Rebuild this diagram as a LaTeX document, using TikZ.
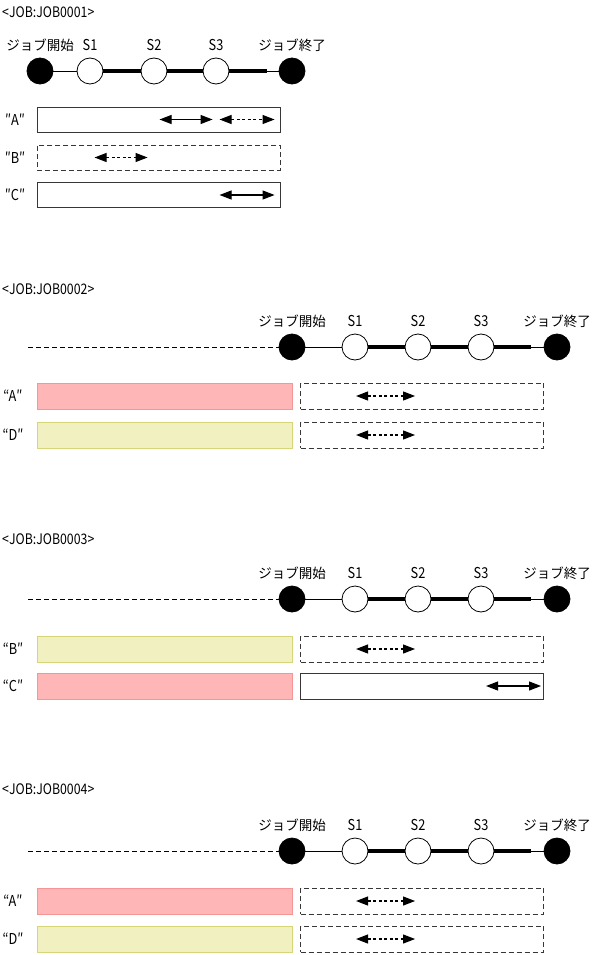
\documentclass[tikz,border=0pt]{standalone}
\usepackage{fontspec}
\setmainfont{Noto Sans CJK JP}
\newfontfamily\narrowfont[FakeStretch=0.85]{Noto Sans CJK JP}
\usetikzlibrary{positioning,calc,arrows.meta}
\definecolor{jobPink}{RGB}{255,182,182}
\definecolor{jobPinkLine}{RGB}{244,150,150}
\definecolor{jobYellow}{RGB}{240,240,192}
\definecolor{jobYellowLine}{RGB}{214,214,120}
\definecolor{jobLine}{RGB}{55,55,55}
\tikzset{
    jobTitle/.style={anchor=west, inner sep=0pt, font=\narrowfont\fontsize{14.5}{16}\selectfont},
    % timeline
    startEnd/.style={circle, draw, fill=black, minimum size=26pt, inner sep=0pt, line width=0.8pt},
    stepNode/.style={circle, draw, fill=white, minimum size=26pt, inner sep=0pt, line width=0.8pt},
    jpLabel/.style={inner sep=1pt, text height=11pt, text depth=2pt, font=\fontsize{13.5}{16}\selectfont},
    stLabel/.style={jpLabel, font=\narrowfont\fontsize{15}{16}\selectfont},
    thinLine/.style={line width=0.8pt},
    thickLine/.style={line width=4pt},
    leadLine/.style={line width=0.9pt, dash pattern=on 5pt off 3pt},
    % bars
    barBase/.style={rectangle, inner sep=0pt, minimum height=25pt, line width=0.9pt},
    solidBox/.style={barBase, draw=jobLine, fill=white, minimum width=243pt},
    dashBox/.style={barBase, draw=jobLine, fill=white, dash pattern=on 5pt off 3pt, minimum width=243pt},
    pinkBar/.style={barBase, draw=jobPinkLine, fill=jobPink, minimum width=255pt, minimum height=26pt},
    yellowBar/.style={barBase, draw=jobYellowLine, fill=jobYellow, minimum width=255pt, minimum height=26pt},
    quoteTag/.style={inner sep=0pt, font=\narrowfont\fontsize{15}{16}\selectfont},
    % spans
    spanSolid/.style={{Triangle[length=12pt,width=9pt]}-{Triangle[length=12pt,width=9pt]}, line width=1.1pt, draw=black},
    spanDash/.style={spanSolid, dash pattern=on 3pt off 2.5pt}
}

\begin{document}
\begin{tikzpicture}[x=1pt,y=-1pt]
    \useasboundingbox (0,0) rectangle (593,955);

    % JOB0001
    \node[jobTitle] (title1) at (2,12) {<JOB:JOB0001>};
    \node[startEnd] (st1) at (40,71) {};
    \node[stepNode] (sa1) at (90,71) {};
    \node[stepNode] (sb1) at (154,71) {};
    \node[stepNode] (sc1) at (216,71) {};
    \node[startEnd] (en1) at (292,71) {};
    \coordinate (tk1) at ([xshift=-12pt]en1.west);
    \draw[thinLine] (st1) -- (sa1);
    \draw[thickLine] (sa1) -- (sb1) (sb1) -- (sc1) (sc1) -- (tk1);
    \draw[thinLine] (tk1) -- (en1);
    \node[jpLabel, above=4pt of st1] {ジョブ開始};
    \node[stLabel, above=4pt of sa1] {S1};
    \node[stLabel, above=4pt of sb1] {S2};
    \node[stLabel, above=4pt of sc1] {S3};
    \node[jpLabel, above=4pt of en1] {ジョブ終了};

    \node[solidBox] (barA1) at (158.5,119.5) {};
    \node[dashBox] (barB1) at (158.5,157.5) {};
    \node[solidBox] (barC1) at (158.5,195) {};
    \node[quoteTag] (tagA1) at (15,119.5) {″A″};
    \node[quoteTag] (tagB1) at (15,157.5) {″B″};
    \node[quoteTag] (tagC1) at (15,195) {″C″};
    \draw[spanSolid] ([xshift=123pt]barA1.west) -- ([xshift=176pt]barA1.west);
    \draw[spanDash] ([xshift=183pt]barA1.west) -- ([xshift=238pt]barA1.west);
    \draw[spanDash] ([xshift=58pt]barB1.west) -- ([xshift=111pt]barB1.west);
    \draw[spanSolid] ([xshift=183pt]barC1.west) -- ([xshift=238pt]barC1.west);

    % JOB0002 - JOB0004 timelines
    \foreach \n/\y/\t in {2/347/289, 3/599/539, 4/851/789} {
        \node[jobTitle] (title\n) at (2,\t) {<JOB:JOB000\n>};
        \coordinate (ld\n) at (28,\y);
        \node[startEnd] (st\n) at (292,\y) {};
        \node[stepNode] (sa\n) at (355,\y) {};
        \node[stepNode] (sb\n) at (418,\y) {};
        \node[stepNode] (sc\n) at (481,\y) {};
        \node[startEnd] (en\n) at (557,\y) {};
        \coordinate (tk\n) at ([xshift=-13pt]en\n.west);
        \draw[leadLine] (ld\n) -- (st\n);
        \draw[thinLine] (st\n) -- (sa\n);
        \draw[thickLine] (sa\n) -- (sb\n) (sb\n) -- (sc\n) (sc\n) -- (tk\n);
        \draw[thinLine] (tk\n) -- (en\n);
        \node[jpLabel, above=4pt of st\n] {ジョブ開始};
        \node[stLabel, above=4pt of sa\n] {S1};
        \node[stLabel, above=4pt of sb\n] {S2};
        \node[stLabel, above=4pt of sc\n] {S3};
        \node[jpLabel, above=4pt of en\n] {ジョブ終了};
    }

    % JOB0002
    \node[pinkBar] (barA2) at (164.5,396) {};
    \node[dashBox, minimum height=26pt] (boxA2) at (422,396) {};
    \node[yellowBar] (barD2) at (164.5,435) {};
    \node[dashBox, minimum height=26pt] (boxD2) at (422,435) {};
    \node[quoteTag] (tagA2) at (13,396) {“A″};
    \node[quoteTag] (tagD2) at (13,435) {“D″};
    \draw[spanDash] ([xshift=56pt]boxA2.west) -- ([xshift=115pt]boxA2.west);
    \draw[spanDash] ([xshift=56pt]boxD2.west) -- ([xshift=115pt]boxD2.west);

    % JOB0003
    \node[yellowBar] (barB3) at (164.5,649) {};
    \node[dashBox, minimum height=26pt] (boxB3) at (422,649) {};
    \node[pinkBar] (barC3) at (164.5,686) {};
    \node[solidBox, minimum height=26pt] (boxC3) at (422,686) {};
    \node[quoteTag] (tagB3) at (13,649) {“B″};
    \node[quoteTag] (tagC3) at (13,686) {“C″};
    \draw[spanDash] ([xshift=56pt]boxB3.west) -- ([xshift=115pt]boxB3.west);
    \draw[spanSolid] ([xshift=186pt]boxC3.west) -- ([xshift=241pt]boxC3.west);

    % JOB0004
    \node[pinkBar] (barA4) at (164.5,901) {};
    \node[dashBox, minimum height=26pt] (boxA4) at (422,901) {};
    \node[yellowBar] (barD4) at (164.5,939) {};
    \node[dashBox, minimum height=26pt] (boxD4) at (422,939) {};
    \node[quoteTag] (tagA4) at (13,901) {“A″};
    \node[quoteTag] (tagD4) at (13,939) {“D″};
    \draw[spanDash] ([xshift=56pt]boxA4.west) -- ([xshift=115pt]boxA4.west);
    \draw[spanDash] ([xshift=56pt]boxD4.west) -- ([xshift=115pt]boxD4.west);
\end{tikzpicture}
\end{document}
